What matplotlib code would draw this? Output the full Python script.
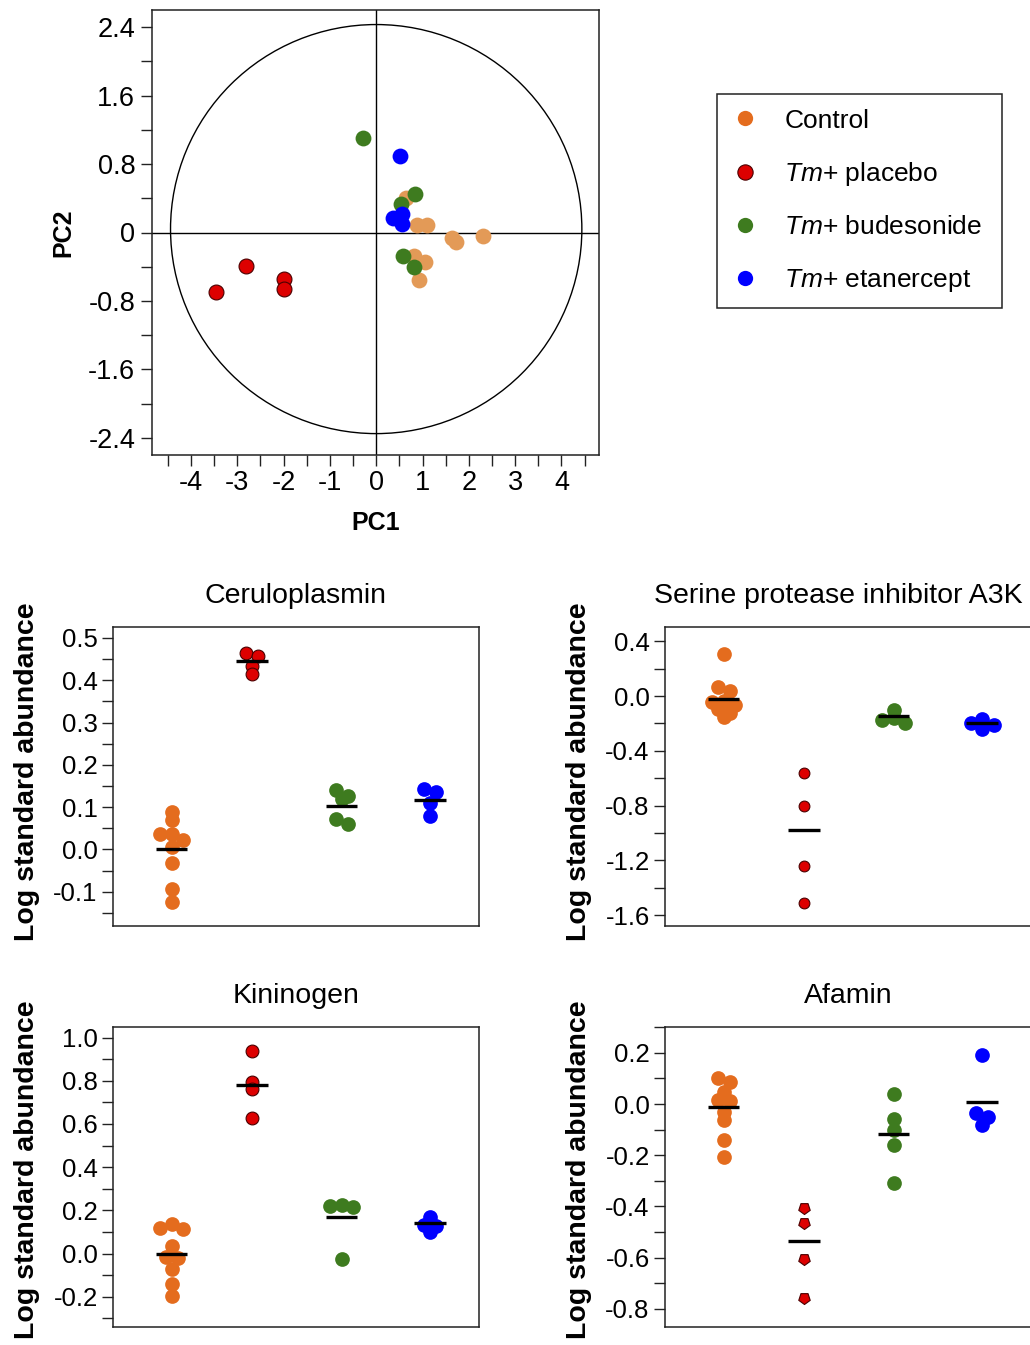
import numpy as np
import matplotlib
matplotlib.use('Agg')
import matplotlib.pyplot as plt
from matplotlib.patches import Ellipse
from matplotlib.lines import Line2D
from matplotlib.ticker import MultipleLocator, FormatStrFormatter, FuncFormatter

plt.rcParams['font.family'] = ['Liberation Sans', 'DejaVu Sans']
plt.rcParams['mathtext.fontset'] = 'custom'
plt.rcParams['mathtext.it'] = 'Liberation Sans:italic'
plt.rcParams['mathtext.rm'] = 'Liberation Sans'
plt.rcParams['axes.unicode_minus'] = False

group_labels = ['Control', r'$\it{Tm}$+ placebo', r'$\it{Tm}$+ budesonide', r'$\it{Tm}$+ etanercept']

# PCA scores
pc_control_x = [0.65, 0.88, 1.09, 1.63, 1.72, 2.31, 0.82, 1.06, 0.93]
pc_control_y = [0.40, 0.09, 0.09, -0.07, -0.11, -0.04, -0.27, -0.35, -0.55]
pc_placebo_x = [-3.46, -2.80, -1.98, -1.98]
pc_placebo_y = [-0.70, -0.39, -0.54, -0.66]
pc_bud_x = [-0.29, 0.84, 0.54, 0.58, 0.82]
pc_bud_y = [1.11, 0.45, 0.33, -0.27, -0.40]
pc_eta_x = [0.52, 0.37, 0.55, 0.55]
pc_eta_y = [0.89, 0.17, 0.22, 0.10]

# protein abundances (log standard abundance)
cer_control = [0.089, 0.069, 0.037, 0.037, 0.022, 0.006, -0.033, -0.094, -0.124]
cer_placebo = [0.465, 0.457, 0.433, 0.415]
cer_bud = [0.140, 0.126, 0.120, 0.071, 0.061]
cer_eta = [0.143, 0.135, 0.109, 0.079]
cer_means = [0.0, 0.446, 0.102, 0.118]

ser_control = [0.31, 0.066, 0.036, -0.036, -0.041, -0.068, -0.097, -0.122, -0.151]
ser_placebo = [-0.564, -0.805, -1.241, -1.509]
ser_bud = [-0.105, -0.158, -0.175, -0.20]
ser_eta = [-0.17, -0.20, -0.214, -0.243]
ser_means = [-0.024, -0.98, -0.146, -0.20]

kin_control = [0.139, 0.119, 0.116, 0.034, -0.015, -0.020, -0.071, -0.139, -0.195]
kin_placebo = [0.938, 0.796, 0.762, 0.629]
kin_bud = [0.227, 0.219, 0.215, -0.025]
kin_eta = [0.17, 0.13, 0.127, 0.099]
kin_means = [0.0, 0.782, 0.170, 0.142]

afa_control = [0.101, 0.085, 0.046, 0.017, 0.013, -0.033, -0.061, -0.139, -0.208]
afa_placebo = [-0.406, -0.464, -0.607, -0.757]
afa_bud = [0.04, -0.059, -0.10, -0.161, -0.308]
afa_eta = [0.192, -0.035, -0.051, -0.081]
afa_means = [-0.012, -0.536, -0.116, 0.008]

col_pca = ['#E39A57', '#DD0000', '#3E7B1F', '#0000FF']
col = ['#E46C1E', '#DD0000', '#3E7B1F', '#0000FF']
red_edge = '#4a0000'

W, H = 1030, 1345
fig = plt.figure(figsize=(W / 100, H / 100), dpi=100)


def px_axes(l, t, r, b):
    return fig.add_axes([l / W, 1 - b / H, (r - l) / W, (b - t) / H])


def style_box(ax):
    for s in ax.spines.values():
        s.set_linewidth(1.1)
        s.set_color('#222222')


# ---------------- PCA ----------------
ax = px_axes(152, 10, 599, 455)
style_box(ax)
ax.set_xlim(-4.84, 4.81)
ax.set_ylim(-2.6, 2.6)
ax.axhline(0, color='black', lw=1.0, zorder=1)
ax.axvline(0, color='black', lw=1.0, zorder=1)
ax.add_patch(Ellipse((0, 0.04), 8.88, 4.78, fill=False, ec='black', lw=1.0, zorder=1))
ax.scatter(pc_control_x, pc_control_y, s=130, c=col_pca[0], lw=0, zorder=3)
ax.scatter(pc_bud_x, pc_bud_y, s=130, c=col_pca[2], lw=0, zorder=3)
ax.scatter(pc_eta_x, pc_eta_y, s=130, c=col_pca[3], lw=0, zorder=3)
ax.scatter(pc_placebo_x, pc_placebo_y, s=115, c=col_pca[1], ec=red_edge, lw=0.8, zorder=3)
ax.xaxis.set_major_locator(MultipleLocator(1))
ax.xaxis.set_minor_locator(MultipleLocator(0.5))
ax.yaxis.set_major_locator(MultipleLocator(0.8))
ax.yaxis.set_minor_locator(MultipleLocator(0.4))
ax.yaxis.set_major_formatter(FuncFormatter(lambda v, p: '0' if abs(v) < 1e-9 else '%.1f' % v))
ax.xaxis.set_major_formatter(FuncFormatter(lambda v, p: '%d' % round(v)))
ax.tick_params(which='both', direction='out', length=8, width=1.0, color='#222222',
               labelsize=19.5, pad=4)
ax.tick_params(axis='x', which='both', pad=3)
ax.set_xlabel('PC1', fontsize=18, fontweight='bold')
ax.set_ylabel('PC2', fontsize=18, fontweight='bold')
ax.xaxis.set_label_coords(0.5, -0.125)
ax.yaxis.set_label_coords(-0.172, 0.5)

handles = [Line2D([], [], ls='', marker='o', ms=11, mfc=c, mec=(red_edge if i == 1 else c),
                  mew=(0.8 if i == 1 else 0)) for i, c in enumerate(col)]
fig.legend(handles, group_labels, loc='upper left',
           bbox_to_anchor=(717 / W, 1 - 307 / H, 285 / W, 213 / H), mode='expand',
           borderaxespad=0, fancybox=False, edgecolor='#222222', framealpha=1,
           fontsize=19, handlelength=1.0, handletextpad=1.0, labelspacing=1.04,
           borderpad=0.55)
fig.legends[0].get_frame().set_linewidth(1.1)


# ---------------- dot plots ----------------
group_x = [1.1, 2.0, 3.01, 4.0]


def swarm_offsets(ax, values, thr_px=6.5, step_px=11.5):
    y0, y1 = ax.get_ylim()
    x0, x1 = ax.get_xlim()
    pos = ax.get_position()
    yscale = pos.height * H / (y1 - y0)
    xscale = pos.width * W / (x1 - x0)
    vals = np.asarray(values, float)
    order = np.argsort(-vals, kind='stable')
    offs = np.zeros(len(vals))
    i = 0
    while i < len(order):
        start = vals[order[i]]
        j = i
        while j < len(order) and (start - vals[order[j]]) * yscale <= thr_px:
            j += 1
        members = order[i:j]
        n = len(members)
        if n % 2:
            slots = [0] + [s for k in range(1, n // 2 + 1) for s in (-k, k)]
        else:
            slots = [s for k in range(n // 2) for s in (-(k + 0.5), k + 0.5)]
        for m, s in zip(members, slots):
            offs[m] = s * step_px / xscale
        i = j
    return offs


def dot_panel(box, title, series, means, ylim, major, minor, title_x=0.5,
              red_size=85, red_marker='o', label_y=0.515):
    ax = px_axes(*box)
    style_box(ax)
    ax.set_xlim(0.44, 4.55)
    ax.set_ylim(*ylim)
    for k, vals in enumerate(series):
        offs = swarm_offsets(ax, vals)
        xs = group_x[k] + offs
        if k == 1:
            ax.scatter(xs, vals, s=red_size, c=col[1], marker=red_marker, ec=red_edge,
                       lw=0.8, zorder=2)
        else:
            ax.scatter(xs, vals, s=112, c=col[k], lw=0, zorder=2)
        ax.hlines(means[k], group_x[k] - 0.175, group_x[k] + 0.175, color='black',
                  lw=2.4, zorder=3)
    ax.set_xticks([])
    ax.yaxis.set_major_locator(MultipleLocator(major))
    ax.yaxis.set_minor_locator(MultipleLocator(minor))
    ax.yaxis.set_major_formatter(FormatStrFormatter('%.1f'))
    ax.tick_params(axis='y', which='both', direction='out', length=8, width=1.0,
                   color='#222222', labelsize=18.5, pad=3)
    ax.set_title(title, fontsize=20.5, pad=17, x=title_x)
    ax.set_ylabel('Log standard abundance', fontsize=20.5, fontweight='bold')
    ax.yaxis.set_label_coords(-0.2, label_y)
    return ax


dot_panel((113, 627, 479, 926), 'Ceruloplasmin',
          [cer_control, cer_placebo, cer_bud, cer_eta], cer_means,
          (-0.181, 0.526), 0.1, 0.05)
dot_panel((665, 627, 1031, 926), 'Serine protease inhibitor A3K',
          [ser_control, ser_placebo, ser_bud, ser_eta], ser_means,
          (-1.679, 0.504), 0.4, 0.2, title_x=0.474, red_size=60)
dot_panel((113, 1027, 479, 1327), 'Kininogen',
          [kin_control, kin_placebo, kin_bud, kin_eta], kin_means,
          (-0.34, 1.049), 0.2, 0.1, label_y=0.525)
dot_panel((665, 1027, 1031, 1327), 'Afamin',
          [afa_control, afa_placebo, afa_bud, afa_eta], afa_means,
          (-0.871, 0.301), 0.2, 0.1, red_size=75, red_marker=(5, 0, 180), label_y=0.525)

fig.savefig('out.png', dpi=100)
